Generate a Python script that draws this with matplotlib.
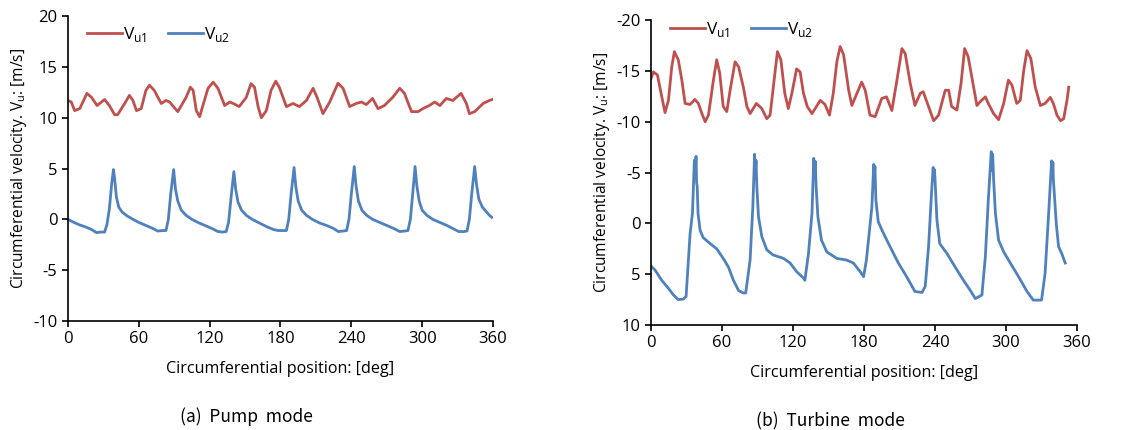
import numpy as np
import matplotlib.pyplot as plt

# (a) pump mode
pump_deg_u1 = [0, 2.8, 5.6, 10, 16, 20, 24.6, 31, 35, 39.5, 42, 48, 52, 55, 58, 62, 66, 69, 73, 79, 83, 86,
               93, 100, 103.6, 106, 108.7, 111.5, 114, 118.6, 123, 127, 132.7, 137, 140, 145, 151, 155, 158,
               161, 163.8, 168, 172, 176, 179, 185, 190.6, 196, 202, 207.6, 211, 216, 221.7, 228.7, 233,
               238.6, 244, 248.5, 252.7, 258, 262.6, 268, 275, 281, 285, 291, 296.5, 300.7, 306, 310.6,
               315, 320.5, 326, 333, 337.5, 340, 344.5, 351.6, 357, 359.5]
pump_u1 = [11.7, 11.55, 10.7, 10.9, 12.4, 12.0, 11.2, 11.8, 11.2, 10.3, 10.3, 11.4, 12.2, 11.7, 10.7, 10.9,
           12.7, 13.2, 12.7, 11.4, 11.7, 11.55, 10.6, 12.0, 13.0, 12.7, 10.7, 10.1, 11.1, 12.9, 13.5, 12.9,
           11.2, 11.55, 11.4, 11.1, 12.0, 13.35, 13.0, 11.1, 10.0, 10.7, 12.7, 13.6, 13.0, 11.1, 11.4, 11.1,
           11.7, 12.9, 12.0, 10.4, 11.55, 13.4, 12.9, 11.1, 11.4, 11.55, 11.3, 11.9, 10.9, 11.2, 12.0, 12.9,
           12.4, 10.6, 10.6, 10.9, 11.2, 11.55, 11.2, 11.9, 11.7, 12.4, 11.4, 10.4, 10.6, 11.4, 11.7, 11.8]

pump_deg_u2 = [0, 5, 10, 15, 20, 24, 28, 31, 33, 35, 37, 38.5, 39.5, 41, 43, 46, 50, 55, 60, 66, 72, 76, 80,
               83, 85, 87, 89.5, 91, 93, 96, 100, 105, 110, 116, 122, 127, 131, 134, 136, 138, 140.5, 142,
               144, 147, 151, 156, 162, 168, 174, 178, 182, 185, 187, 189, 191.5, 193, 195, 198, 202, 207,
               213, 219, 225, 229, 233, 236, 238, 240, 242.5, 244, 246, 249, 253, 258, 264, 270, 276, 281,
               285, 288, 290, 292, 294, 295.5, 297.5, 300, 304, 309, 315, 321, 326, 331, 335, 338, 340, 342,
               344.5, 346, 348, 351, 354, 357, 359]
pump_u2 = [0.0, -0.3, -0.55, -0.75, -1.0, -1.3, -1.25, -1.25, -0.5, 1.0, 3.5, 4.9, 4.0, 2.2, 1.2, 0.7, 0.35,
           0.0, -0.3, -0.6, -0.9, -1.15, -1.1, -1.1, 0.0, 2.5, 4.9, 3.0, 1.8, 0.9, 0.4, 0.0, -0.3, -0.6,
           -0.9, -1.2, -1.25, -1.2, -0.3, 2.0, 4.7, 3.0, 1.7, 0.9, 0.4, 0.0, -0.35, -0.7, -1.0, -1.1, -1.1,
           -1.1, 0.0, 2.5, 5.1, 3.2, 1.8, 0.9, 0.4, 0.0, -0.35, -0.6, -0.9, -1.2, -1.15, -1.1, 0.0, 2.5,
           5.2, 3.3, 1.8, 0.9, 0.4, 0.0, -0.3, -0.6, -0.9, -1.2, -1.15, -1.1, 0.0, 2.5, 5.2, 3.3, 1.8, 0.9,
           0.4, 0.0, -0.3, -0.6, -0.9, -1.2, -1.2, -1.15, 0.0, 2.5, 5.2, 3.5, 2.0, 1.2, 0.8, 0.4, 0.2]

# (b) turbine mode
turb_deg_u1 = [0, 2, 5.4, 9, 11.8, 14.7, 17.5, 19.7, 23, 26, 28.8, 33, 37, 40, 43, 45.7, 48.5, 52.7, 55.5,
               58, 61, 64, 66.8, 71, 74, 78, 81, 83.7, 89, 93.6, 97.8, 100.6, 104, 106.8, 109.7, 113, 116,
               119, 123, 126, 128.8, 132, 136, 138.7, 143, 147, 150.8, 154, 157, 159.8, 162.7, 167, 169.7,
               174, 178, 181, 185, 189.4, 195, 199, 203.5, 207.8, 212, 214.8, 219, 223, 227.5, 230, 234.5,
               238.8, 243, 248.6, 251.5, 254, 258.5, 262, 265, 268, 272.6, 275.4, 278, 282.5, 285, 289.5,
               293.7, 298, 302, 305, 309, 312, 315, 317.7, 321, 324.7, 329, 333, 337.4, 340, 343, 346,
               348.7, 351.5, 353]
turb_u1 = [-14.26, -14.9, -14.6, -12.5, -10.9, -12.1, -15.4, -16.9, -16.1, -14.1, -11.8, -11.7, -12.2,
           -11.8, -10.8, -10.0, -10.65, -14.1, -16.1, -14.8, -11.5, -11.0, -13.1, -15.9, -15.4, -13.4,
           -11.5, -10.8, -11.8, -11.3, -10.3, -10.65, -14.1, -16.9, -16.1, -12.8, -11.3, -12.8, -15.2,
           -14.9, -12.8, -11.5, -10.8, -11.3, -12.1, -11.7, -10.65, -12.8, -15.9, -17.4, -16.6, -13.1,
           -11.6, -12.8, -13.9, -13.1, -10.65, -10.5, -12.3, -12.45, -11.1, -14.1, -17.2, -16.7, -13.8,
           -11.6, -12.8, -12.95, -11.5, -10.1, -10.65, -13.1, -13.1, -11.5, -11.15, -13.8, -17.2, -16.4,
           -13.4, -11.6, -11.95, -12.45, -11.8, -10.8, -10.2, -11.8, -14.1, -13.6, -11.8, -12.1, -15.1,
           -17.0, -16.2, -13.4, -11.6, -11.8, -12.4, -11.8, -10.65, -10.1, -10.3, -12.1, -13.4]

turb_deg_u2 = [0, 3.4, 9, 14.7, 19, 23, 27.3, 29.6, 33, 35, 36.6, 37.3, 38, 38.5, 39, 39.7, 41.4, 44, 50,
               55.5, 61, 65.4, 69.6, 73.9, 78, 80, 83.7, 86, 87.5, 88, 88.7, 89.4, 90.8, 93.6, 97.8, 103,
               112, 117.5, 123, 129, 130, 133, 136, 137.5, 138, 138.8, 139.5, 141, 144, 148.5, 157, 165,
               171, 176.7, 179.6, 182, 186.6, 188.2, 188.6, 189.2, 190, 192, 196.5, 202, 209, 216, 223, 229,
               231.7, 234.5, 237, 238.4, 238.8, 239.4, 240, 241.6, 244, 250, 257, 264, 269.8, 274, 279.6,
               282.5, 285, 287.5, 288, 288.7, 289.5, 291, 293.7, 298, 303.6, 310.6, 317.7, 323, 330, 333,
               336, 338.5, 339, 339.6, 340, 342.5, 344.4, 347, 350]
turb_u2 = [4.2, 4.6, 5.6, 6.4, 7.05, 7.5, 7.45, 7.2, 1.0, -1.0, -6.2, -4.5, -6.6, -4.0, -3.6, -1.0, 0.65,
           1.4, 2.0, 2.5, 3.45, 4.3, 5.6, 6.6, 6.85, 6.85, 3.6, -1.6, -6.8, -4.5, -6.2, -3.6, -0.65, 1.3,
           2.6, 3.1, 3.45, 3.9, 4.75, 5.4, 5.6, 3.0, -1.0, -6.4, -4.5, -6.1, -3.6, -0.65, 1.65, 2.8, 3.45,
           3.6, 3.9, 4.75, 5.25, 3.6, -1.6, -5.8, -4.6, -5.6, -2.3, -0.15, 1.0, 2.3, 3.9, 5.25, 6.7, 6.8,
           6.2, 2.3, -2.95, -5.5, -4.6, -5.3, -4.3, -0.3, 2.0, 2.95, 4.3, 5.6, 6.6, 7.4, 7.05, 3.3, -2.3,
           -7.05, -5.2, -6.8, -4.3, -1.0, 1.65, 2.8, 3.9, 5.25, 6.7, 7.55, 7.55, 4.9, -1.0, -6.15, -4.8,
           -6.0, -4.3, 0.1, 2.3, 2.95, 3.9]

x_ticks = [0, 60, 120, 180, 240, 300, 360]
red = '#C0504D'
blue = '#4F81BD'

plt.rcParams['font.family'] = ['Open Sans', 'DejaVu Sans']
plt.rcParams['axes.unicode_minus'] = False

fig = plt.figure(figsize=(11.43, 4.30), dpi=100)
ax1 = fig.add_axes([0.0595, 0.2535, 0.3718, 0.709])
ax2 = fig.add_axes([0.5696, 0.2442, 0.3727, 0.709])

ax1.plot(pump_deg_u1, pump_u1, color=red, lw=2, label='V$_{\\mathregular{u1}}$')
ax1.plot(pump_deg_u2, pump_u2, color=blue, lw=2, label='V$_{\\mathregular{u2}}$')
ax1.set_ylim(-10, 20)
ax1.set_yticks(range(-10, 21, 5))

ax2.plot(turb_deg_u1, turb_u1, color=red, lw=2, label='V$_{\\mathregular{u1}}$')
ax2.plot(turb_deg_u2, turb_u2, color=blue, lw=2, label='V$_{\\mathregular{u2}}$')
ax2.set_ylim(10, -20)
ax2.set_yticks(range(-20, 11, 5))

for ax, cap, top in [(ax1, '(a)  Pump  mode', 1.0), (ax2, '(b)  Turbine  mode', 1.03)]:
    ax.set_xlim(0, 360)
    ax.set_xticks(x_ticks)
    for s in ['top', 'right']:
        ax.spines[s].set_visible(False)
    ax.spines['left'].set_linewidth(1.2)
    ax.spines['bottom'].set_linewidth(1.2)
    ax.tick_params(direction='out', length=4, labelsize=12, colors='black', width=1.2)
    ax.set_xlabel('Circumferential position: [deg]', fontsize=11.6, labelpad=10)
    ax.set_ylabel('Circumferential velocity. V$_{\\mathregular{u}}$: [m/s]', fontsize=11.2, labelpad=3)
    ax.legend(loc='upper left', ncol=2, frameon=False, fontsize=12.5, handlelength=2.0,
              handletextpad=0.05, columnspacing=1.2, borderaxespad=0.1, bbox_to_anchor=(0.025, top))
    ax.text(0.42, -0.315, cap, transform=ax.transAxes, ha='center', va='center', fontsize=12.5,
            family=['Noto Sans CJK KR', 'DejaVu Sans'])

plt.savefig('out.png', dpi=100)
